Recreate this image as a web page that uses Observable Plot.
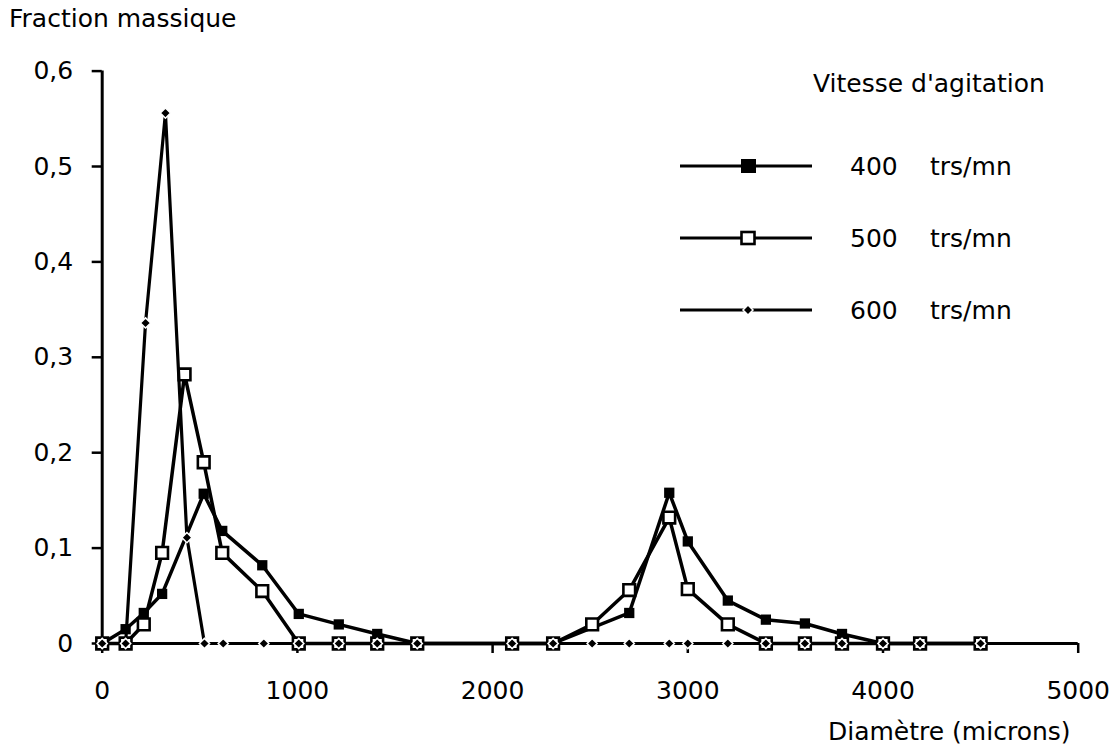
<!DOCTYPE html>
<html>
<head>
<meta charset="utf-8">
<script src="https://cdn.jsdelivr.net/npm/d3@7"></script>
<script src="https://cdn.jsdelivr.net/npm/@observablehq/plot@0.6"></script>
<style>
  html, body { margin: 0; padding: 0; background: #fff; }
  #wrap { position: relative; width: 1120px; height: 756px; font-family: "DejaVu Sans", sans-serif; }
  #wrap > svg { position: absolute; left: 0; top: 0; }
  #overlay { position: absolute; left: 0; top: 0; pointer-events: none; }
</style>
</head>
<body>
<div id="wrap"></div>
<script>
// ---- Data ----
const diam400 = [0, 120, 213, 307, 520, 615, 820, 1007, 1212, 1409, 1614, 2100, 2310, 2700, 2905, 3000, 3205, 3400, 3600, 3790, 4000, 4190, 4500];
const frac400 = [0, 0.015, 0.032, 0.052, 0.157, 0.118, 0.082, 0.031, 0.020, 0.010, 0, 0, 0, 0.032, 0.158, 0.107, 0.045, 0.025, 0.021, 0.010, 0, 0, 0];

const diam500 = [0, 120, 213, 307, 422, 520, 615, 820, 1007, 1212, 1409, 1614, 2100, 2310, 2510, 2700, 2905, 3000, 3205, 3400, 3600, 3790, 4000, 4190, 4500];
const frac500 = [0, 0, 0.020, 0.095, 0.282, 0.190, 0.095, 0.055, 0, 0, 0, 0, 0, 0, 0.020, 0.056, 0.132, 0.057, 0.020, 0, 0, 0, 0, 0, 0];

const diam600 = [0, 120, 222, 324, 434, 524, 620, 828, 1007, 1212, 1409, 1614, 2100, 2310, 2510, 2700, 2905, 3000, 3205, 3400, 3600, 3790, 4000, 4190, 4500];
const frac600 = [0, 0, 0.336, 0.556, 0.111, 0, 0, 0, 0, 0, 0, 0, 0, 0, 0, 0, 0, 0, 0, 0, 0, 0, 0, 0, 0];

const xTicks = [0, 1000, 2000, 3000, 4000, 5000];
const xTickLabels = ["0", "1000", "2000", "3000", "4000", "5000"];
const yTicks = [0, 0.1, 0.2, 0.3, 0.4, 0.5, 0.6];
const yTickLabels = ["0", "0,1", "0,2", "0,3", "0,4", "0,5", "0,6"];

const seriesLabels = ["400", "500", "600"];
const unitLabel = "trs/mn";
const legendTitle = "Vitesse d'agitation";
const yTitle = "Fraction massique";
const xTitle = "Diamètre (microns)";

const rows = (xs, ys) => xs.map((d, i) => ({d, f: ys[i]}));
const s400 = rows(diam400, frac400);
const s500 = rows(diam500, frac500);
const s600 = rows(diam600, frac600);

const font = '"DejaVu Sans", sans-serif';

const chart = Plot.plot({
  width: 1120,
  height: 756,
  marginLeft: 101.7,
  marginRight: 42.3,
  marginTop: 70.6,
  marginBottom: 113,
  style: {fontFamily: font, fontSize: "25px", color: "black", background: "white", overflow: "visible"},
  x: {domain: [0, 5000]},
  y: {domain: [0, 0.6]},
  marks: [
    Plot.axisX({ticks: xTicks, tickFormat: (d) => xTickLabels[xTicks.indexOf(d)], tickSize: 10, tickPadding: 28, strokeWidth: 2.5, label: null, fontSize: 25}),
    Plot.axisY({ticks: yTicks, tickFormat: (d) => yTickLabels[yTicks.findIndex(t => Math.abs(t - d) < 1e-9)], tickSize: 10, tickPadding: 19, strokeWidth: 2.5, label: null, fontSize: 25}),
    Plot.ruleY([0], {x1: 0, x2: 5000, strokeWidth: 3}),
    Plot.ruleX([0], {y1: 0, y2: 0.6, strokeWidth: 3}),
    Plot.line(s400, {x: "d", y: "f", stroke: "black", strokeWidth: 3.5}),
    Plot.dot(s400, {x: "d", y: "f", symbol: "square", r: 5.8, fill: "black"}),
    Plot.line(s500, {x: "d", y: "f", stroke: "black", strokeWidth: 3.5}),
    Plot.dot(s500, {x: "d", y: "f", symbol: "square", r: 6.6, fill: "white", stroke: "black", strokeWidth: 2.6}),
    Plot.line(s600, {x: "d", y: "f", stroke: "black", strokeWidth: 3.2}),
    Plot.dot(s600, {x: "d", y: "f", symbol: "diamond2", r: 4.6, fill: "black", stroke: "white", strokeWidth: 1.5})
  ]
});

const wrap = document.getElementById("wrap");
wrap.appendChild(chart);

// ---- Titles and legend overlay ----
const ns = "http://www.w3.org/2000/svg";
const ov = document.createElementNS(ns, "svg");
ov.setAttribute("id", "overlay");
ov.setAttribute("width", 1120);
ov.setAttribute("height", 756);
ov.setAttribute("font-family", font);
ov.setAttribute("font-size", 25);
wrap.appendChild(ov);

function txt(s, x, y, anchor) {
  const t = document.createElementNS(ns, "text");
  t.setAttribute("x", x); t.setAttribute("y", y);
  if (anchor) t.setAttribute("text-anchor", anchor);
  t.setAttribute("fill", "black");
  t.textContent = s;
  ov.appendChild(t);
  return t;
}
function el(name, attrs) {
  const e = document.createElementNS(ns, name);
  for (const k in attrs) e.setAttribute(k, attrs[k]);
  ov.appendChild(e);
  return e;
}

txt(yTitle, 9, 27);
txt(xTitle, 828, 740);
txt(legendTitle, 813, 92);

const legendRowsY = [166, 238, 310];
legendRowsY.forEach((cy, i) => {
  el("line", {x1: 680, x2: 812, y1: cy, y2: cy, stroke: "black", "stroke-width": 2.8});
  if (i === 0) el("rect", {x: 741, y: cy - 7, width: 15, height: 14, fill: "black"});
  if (i === 1) el("rect", {x: 741.5, y: cy - 6, width: 13, height: 12, fill: "white", stroke: "black", "stroke-width": 2.6});
  if (i === 2) el("path", {d: `M748,${cy - 5}L753,${cy}L748,${cy + 5}L743,${cy}Z`, fill: "black", stroke: "white", "stroke-width": 1.5});
  txt(seriesLabels[i], 850, cy + 9);
  txt(unitLabel, 930, cy + 9);
});
</script>
</body>
</html>
